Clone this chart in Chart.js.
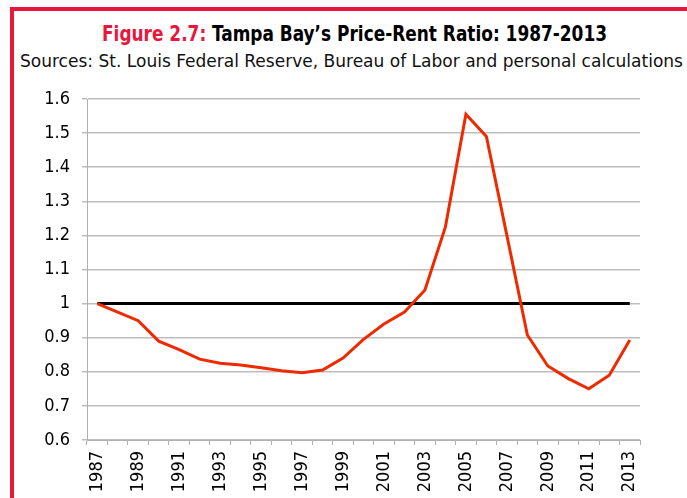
<!DOCTYPE html>
<html>
<head>
<meta charset="utf-8">
<script src="https://cdn.jsdelivr.net/npm/chart.js@4.4.1/dist/chart.umd.min.js"></script>
<style>
  body { margin: 0; background: #fff; width: 687px; height: 498px; overflow: hidden; position: relative; font-family: "Liberation Sans Narrow", "DejaVu Sans Condensed", "Liberation Sans", sans-serif; }
  #frame { position: absolute; left: 10px; top: 7px; width: 700px; height: 520px; border-left: 4px solid #e8173c; border-top: 4px solid #e8173c; }
  #title { position: absolute; left: 102px; top: 22px; font-weight: bold; font-size: 21px; color: #000; white-space: nowrap; transform-origin: 0 0; }
  #title span { color: #e8173c; }
  #sub { position: absolute; left: 20px; top: 50px; font-size: 18px; color: #111; white-space: nowrap; transform-origin: 0 0; }
  #wrap { position: absolute; left: 0; top: 0; width: 687px; height: 498px; }
</style>
</head>
<body>
<div id="frame"></div>
<div id="title"><span>Figure 2.7:</span> Tampa Bay’s Price-Rent Ratio: 1987-2013</div>
<div id="sub">Sources: St. Louis Federal Reserve, Bureau of Labor and personal calculations</div>
<div id="wrap"><canvas id="chart" width="687" height="498"></canvas></div>
<script>
const years = ['1987','1988','1989','1990','1991','1992','1993','1994','1995','1996','1997','1998','1999',
  '2000','2001','2002','2003','2004','2005','2006','2007','2008','2009','2010','2011','2012','2013'];
const ratio = [1.0, 0.975, 0.95, 0.89, 0.865, 0.837, 0.825, 0.82, 0.812, 0.803, 0.797, 0.805, 0.84,
  0.895, 0.94, 0.975, 1.04, 1.225, 1.555, 1.49, 1.2, 0.908, 0.817, 0.78, 0.75, 0.79, 0.893];
const baseline = years.map(() => 1);
const yTicks = [0.6, 0.7, 0.8, 0.9, 1, 1.1, 1.2, 1.3, 1.4, 1.5, 1.6];

const fontFam = '"Liberation Sans Narrow", "DejaVu Sans Condensed", "Liberation Sans", sans-serif';

// squeeze / stretch the heading lines to the widths seen in the picture
function fitWidth(id, w) {
  const el = document.getElementById(id);
  const k = w / el.getBoundingClientRect().width;
  el.style.transform = 'scaleX(' + k + ')';
}
fitWidth('title', 505);
fitWidth('sub', 663);

const ctx = document.getElementById('chart');
const myChart = new Chart(ctx, {
  type: 'line',
  data: {
    labels: years,
    datasets: [{
      label: 'Ratio',
      data: ratio,
      borderColor: '#ee2a00',
      borderWidth: 3,
      pointRadius: 0,
      tension: 0,
      fill: false
    }, {
      label: 'Baseline',
      data: baseline,
      borderColor: '#000',
      borderWidth: 3,
      pointRadius: 0,
      tension: 0,
      fill: false
    }]
  },
  options: {
    responsive: false,
    animation: false,
    layout: { padding: { left: 14, right: 47, top: 99, bottom: 0 } },
    plugins: { legend: { display: false }, tooltip: { enabled: false } },
    scales: {
      x: {
        offset: true,
        grid: { offset: true, drawOnChartArea: false, drawTicks: true, tickLength: 5, color: '#b0b0b0' },
        border: { color: '#b0b0b0', width: 1 },
        ticks: {
          autoSkip: false, minRotation: 90, maxRotation: 90, padding: 6,
          color: '#000', font: { family: fontFam, size: 18 },
          callback: function(v, i) { return i % 2 === 0 ? years[i] : ''; }
        },
        afterFit: function(scale) { scale.height = 58; }
      },
      y: {
        min: 0.6, max: 1.6,
        afterBuildTicks: function(scale) { scale.ticks = yTicks.map(v => ({ value: v })); },
        grid: { color: '#bdbdbd', lineWidth: 1.5, tickLength: 5 },
        border: { color: '#b0b0b0', width: 1 },
        ticks: {
          padding: 12, color: '#000', font: { family: fontFam, size: 18 },
          callback: function(v) { return String(Math.round(v * 10) / 10); }
        },
        afterFit: function(scale) { scale.width = 73; }
      }
    }
  }
});
</script>
</body>
</html>
